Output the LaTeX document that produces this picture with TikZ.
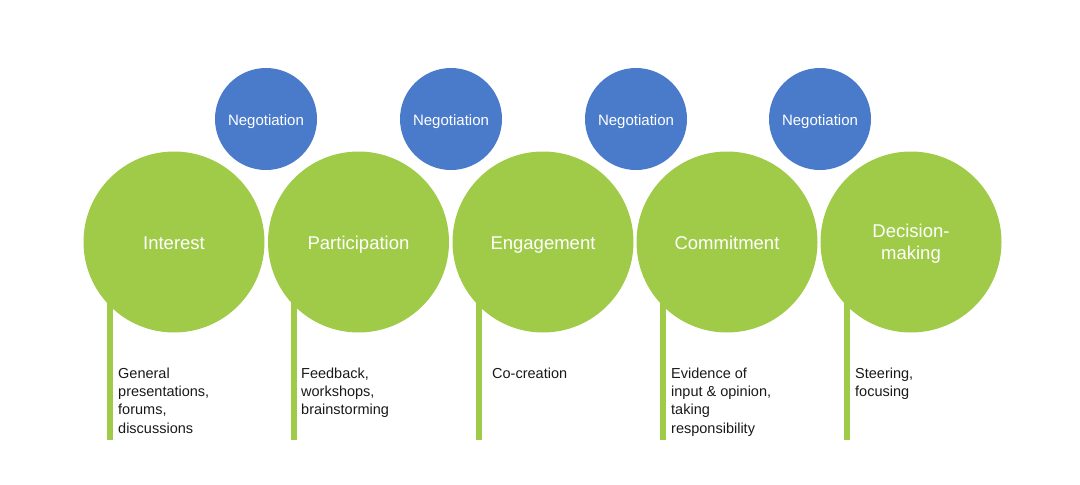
\documentclass[tikz,border=0pt]{standalone}
\usepackage{fontspec}
\setmainfont{Liberation Sans}
\definecolor{leafgreen}{RGB}{160,203,72}
\definecolor{talkblue}{RGB}{74,123,203}
\tikzset{stage/.style={circle, fill=leafgreen, minimum size=181pt, inner sep=0pt, text=white, align=center,
  text depth=0pt, font=\fontsize{18.5}{22}\selectfont},
oneline/.style={text height=15pt},
negot/.style={circle, fill=talkblue, minimum size=102pt, inner sep=0pt, text=white,
  text height=12.8pt, text depth=0pt, font=\fontsize{15}{18}\selectfont},
%stem under each stage
stem/.style={draw=leafgreen, line width=6pt},
desc/.style={anchor=north west, inner sep=0pt, align=left, text=black!90,
  font=\fontsize{14.5}{18.3}\selectfont}}

\begin{document}
\begin{tikzpicture}[x=1pt, y=-1pt]
    \useasboundingbox (0,0) rectangle (1080,485);
    \node[stage, oneline] (int) at (174,242) {Interest};
    \node[stage, oneline] (par) at (358.5,242) {Participation};
    \node[stage, oneline] (eng) at (543,242) {Engagement};
    \node[stage, oneline] (com) at (727,242) {Commitment};
    \node[stage, text depth=-4pt] (dec) at (911,242) {Decision-\\making};
    \node[negot] (n1) at (266,119) {Negotiation};
    \node[negot] (n2) at (451,119) {Negotiation};
    \node[negot] (n3) at (636,119) {Negotiation};
    \node[negot] (n4) at (820,119) {Negotiation};
    % stems
    \coordinate (s1) at (110,440);
    \coordinate (s2) at (294,440);
    \coordinate (s3) at (479,440);
    \coordinate (s4) at (663,440);
    \coordinate (s5) at (847,440);
    \draw[stem] (s1) -- (s1 |- int.center);
    \draw[stem] (s2) -- (s2 |- par.center);
    \draw[stem] (s3) -- (s3 |- eng.center);
    \draw[stem] (s4) -- (s4 |- com.center);
    \draw[stem] (s5) -- (s5 |- dec.center);
    \node[desc] (d1) at (118,367.5) {General\\presentations,\\forums,\\discussions};
    \node[desc] (d2) at (301,367.5) {Feedback,\\workshops,\\brainstorming};
    \node[desc] (d3) at (492,367.5) {Co-creation};
    \node[desc] (d4) at (671,367.5) {Evidence of\\input \& opinion,\\taking\\responsibility};
    \node[desc] (d5) at (855,367.5) {Steering,\\focusing};
\end{tikzpicture}
\end{document}
